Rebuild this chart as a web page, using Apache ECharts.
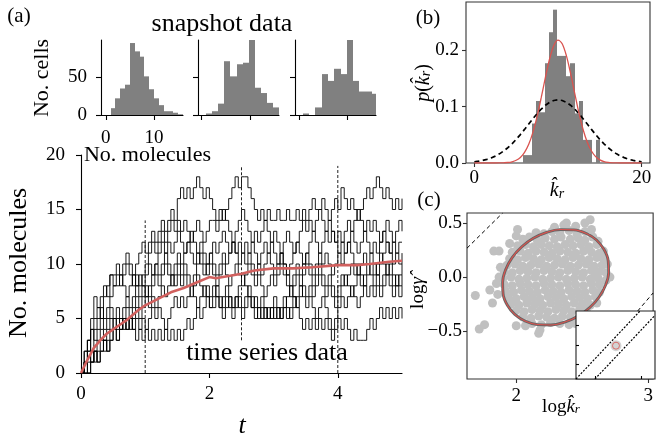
<!DOCTYPE html>
<html><head><meta charset="utf-8">
<script src="https://cdn.jsdelivr.net/npm/echarts@6/dist/echarts.min.js"></script>
<style>html,body{margin:0;padding:0;background:#fff}#c{width:656px;height:445px}</style>
</head><body><div id="c"></div>
<script>
const SERIF = "'Liberation Serif','Times New Roman',serif";

// ---- (a) snapshot histograms ----
const hist1Edges = [1,2,3,4,5,6,7,8,9,10,11,12,13,14,15,16];
const hist1Counts = [9,22,35,40,95,84,77,51,34,22,13,5,5,3,1];
const hist2Edges = [1,2.25,3.5,4.75,6,7.25,8.5,9.75,11,12.25,13.5,14.75,16];
const hist2Counts = [2,5,15,71,51,67,69,99,36,29,16,10];
const hist3Edges = [0.85,2.15,3.45,4.75,6.05,7.35,8.65,9.95,11.25,12.55,13.85,15.15,16.45];
const hist3Counts = [2,0,10,54,45,61,54,99,45,31,31,28];
const histXTicks = [0,10];
const histYTicks = [0,50];

// ---- (a) time series (sampled every tStep) ----
const tStep = 0.05;
const traj1 = [0,2,3,5,7,6,7,8,7,9,9, 10,9,10,11,10,9,10,11,12,11, 12,13,12,13,14,13,14,15,14,16, 17,16,17,16,17,18,17,16,17,16, 15,14,15,14,15,16,17,18,17,18, 18,17,16,15,14,15,14,15,14,14, 15,14,14,15,14,14,15,14,15,14, 15,16,15,15,16,15,14,15,16,15, 17,16,15,16,15,14,15,16,17,16, 17,18,17,16,17,16,15,16,15,16];
const traj2 = [0,1,3,4,5,6,5,7,8,9,8, 9,8,9,10,9,8,9,8,9,10, 11,12,11,12,13,12,13,14,13,14, 13,14,13,12,13,14,13,12,13,14, 14,13,14,15,14,13,12,13,14,15, 14,13,12,13,12,13,14,13,12,13, 12,11,12,13,12,11,12,13,14,13, 14,13,14,15,14,13,12,13,12,11, 12,13,14,13,14,15,14,13,14,13, 14,13,12,13,14,13,12,13,14,13];
const traj3 = [0,2,3,2,4,5,6,5,6,7,8, 8,9,8,7,8,9,8,9,8,9, 10,9,10,11,12,11,12,11,12,13, 12,11,12,13,12,11,12,11,10,11, 12,11,12,13,12,11,12,11,12,11, 10,11,12,11,10,11,12,11,12,11, 10,11,10,9,10,11,12,11,10,11, 12,13,12,11,12,13,14,13,12,13, 12,11,12,13,12,11,12,13,12,11, 12,11,12,13,12,11,12,11,12,12];
const traj4 = [0,1,2,4,3,4,5,4,5,6,5, 6,5,6,7,6,7,8,7,8,7, 8,9,10,9,10,11,10,9,10,11, 10,11,12,11,10,11,10,9,10,11, 10,9,10,11,10,11,12,11,10,11, 12,11,10,9,10,9,10,11,10,9, 10,11,10,9,8,9,10,9,10,11, 10,9,10,11,10,11,10,9,10,11, 10,11,12,11,10,9,10,11,10,11, 10,9,10,11,12,11,10,11,10,11];
const traj5 = [0,1,2,1,2,3,4,3,4,5,4, 5,4,5,6,5,6,7,6,7,8, 7,8,9,8,9,10,9,8,9,10, 9,10,9,8,9,10,11,10,9,10, 9,8,9,10,9,8,9,10,9,8, 9,10,9,8,9,8,7,8,9,8, 9,10,9,8,7,8,9,8,9,10, 9,8,9,10,9,8,9,8,7,8, 9,8,9,10,9,10,9,8,9,10, 9,10,11,10,9,10,9,8,9,10];
const traj6 = [0,0,1,2,1,2,3,2,3,4,5, 4,5,4,5,4,5,6,5,6,7, 6,7,6,7,8,7,8,9,8,9, 8,9,8,7,8,9,8,7,8,7, 8,7,6,7,8,7,6,7,8,9, 8,7,6,5,6,7,6,5,6,7, 6,5,6,7,8,7,6,7,8,7, 8,7,8,9,8,7,8,7,6,7, 8,9,8,7,8,9,8,9,10,9, 8,9,8,9,10,9,8,9,8,9];
const traj7 = [0,1,0,1,2,1,2,3,2,3,4, 3,4,5,4,5,4,5,4,5,4, 5,6,5,6,5,4,5,6,7,6, 7,6,7,8,7,6,7,8,7,6, 7,8,7,6,7,6,5,6,7,6, 7,8,7,6,5,6,5,6,5,6, 5,6,7,6,5,6,7,8,7,6, 7,6,5,6,7,6,5,4,5,6, 7,6,7,8,7,6,7,8,7,8, 7,8,7,8,9,8,7,8,7,8];
const traj8 = [0,0,0,1,2,1,2,3,2,3,4, 3,4,5,4,5,4,3,4,3,4, 3,4,3,4,3,4,3,4,3,4, 3,4,5,4,5,6,5,6,7,6, 6,7,6,5,6,7,6,7,6,5, 6,7,6,7,6,5,6,5,6,5, 6,5,6,5,6,7,6,5,4,5, 4,5,4,5,4,5,4,3,4,5, 4,5,4,3,4,3,3,3,4,5, 4,5,6,5,6,5,6,5,6,5];
const trajectories = [traj1,traj2,traj3,traj4,traj5,traj6,traj7,traj8];
const meanT = [0,0.1,0.2,0.3,0.4,0.5,0.6,0.7,0.8,0.9,1.0,1.2,1.4,1.6,1.8,2.0,2.1,2.3,2.5,2.7,3.0,3.3,3.6,4.0,4.3,4.5,4.8,5.0];
const meanV = [0,1.2,2.3,3.0,3.6,4.0,4.4,4.8,5.3,5.8,6.2,6.8,7.4,7.8,8.3,8.8,8.7,8.9,9.1,9.4,9.6,9.6,9.7,9.9,9.9,10.0,10.2,10.3];
const snapT = [1, 2.5, 4];
const snapLow = [0, 3, 0];
const snapHigh = [14, 19, 19];
const mainXTicks = [0,2,4];
const mainYTicks = [0,5,10,15,20];

// ---- (b) ----
const bEdges = [5.84,6.35,6.87,7.38,7.89,8.41,8.92,9.43,9.94,10.46,10.97,11.48,12.0,12.51,13.02,13.54,14.05,14.56,15.07];
const bDensity = [0.014,0.014,0.07,0.11,0.09,0.177,0.232,0.272,0.19,0.19,0.154,0.177,0.088,0.11,0.041,0.041,0,0.041];
const curveStep = 0.5;
const bRed = [0,0,0,0,0,0,0.0001,0.0004,0.0009,0.0022,0.0048,0.0099,0.0189,0.0332,0.0544,0.0826,0.1164,0.1523,0.1849,0.2084,0.2180,0.2115,0.1905,0.1593,0.1236,0.0890,0.0595,0.0369,0.0212,0.0113,0.0056,0.0026,0.0011,0.0004,0.0001,0,0,0,0,0,0];
const bBlack = [0.0022,0.0032,0.0046,0.0065,0.0090,0.0122,0.0162,0.0212,0.0271,0.0340,0.0418,0.0504,0.0596,0.0691,0.0785,0.0875,0.0957,0.1025,0.1077,0.1109,0.1120,0.1109,0.1077,0.1025,0.0957,0.0875,0.0785,0.0691,0.0596,0.0504,0.0418,0.0340,0.0271,0.0212,0.0162,0.0122,0.0090,0.0065,0.0046,0.0032,0.0022];
const bXTicks = [0,20];
const bYTicks = [0,0.1,0.2];

// ---- (c) ----
const cloud = [
[2.29,0.46],[2.36,0.48],[2.45,0.47],[2.52,0.5],[2.56,0.53],
[2.15,0.41],[2.21,0.40],[2.27,0.42],[2.33,0.41],[2.40,0.43],[2.46,0.40],[2.52,0.42],[2.57,0.44],
[2.05,0.35],[2.1,0.37],[2.16,0.34],[2.22,0.36],[2.29,0.35],[2.34,0.37],[2.41,0.35],[2.47,0.36],[2.52,0.34],[2.58,0.37],
[2.01,0.29],[2.07,0.3],[2.13,0.28],[2.19,0.3],[2.25,0.29],[2.31,0.28],[2.37,0.3],[2.43,0.29],[2.49,0.3],[2.55,0.28],[2.61,0.3],
[1.97,0.23],[2.03,0.24],[2.09,0.22],[2.15,0.24],[2.21,0.23],[2.27,0.22],[2.33,0.24],[2.39,0.23],[2.45,0.22],[2.51,0.24],[2.57,0.23],[2.63,0.22],
[1.95,0.17],[2.01,0.16],[2.07,0.18],[2.13,0.17],[2.19,0.16],[2.25,0.18],[2.31,0.17],[2.37,0.16],[2.43,0.18],[2.49,0.17],[2.55,0.16],[2.61,0.18],[2.66,0.17],
[1.93,0.11],[1.99,0.12],[2.05,0.1],[2.11,0.11],[2.17,0.12],[2.23,0.1],[2.29,0.11],[2.35,0.12],[2.41,0.1],[2.47,0.11],[2.53,0.12],[2.59,0.1],[2.65,0.11],
[1.91,0.05],[1.97,0.04],[2.03,0.06],[2.09,0.05],[2.15,0.04],[2.21,0.06],[2.27,0.05],[2.33,0.04],[2.39,0.06],[2.45,0.05],[2.51,0.04],[2.57,0.06],[2.63,0.05],[2.68,0.04],
[1.9,-0.01],[1.96,0.0],[2.02,-0.02],[2.08,-0.01],[2.14,0.0],[2.2,-0.02],[2.26,-0.01],[2.32,0.0],[2.38,-0.02],[2.44,-0.01],[2.5,0.0],[2.56,-0.02],[2.62,-0.01],[2.68,-0.03],
[1.91,-0.07],[1.97,-0.08],[2.03,-0.06],[2.09,-0.07],[2.15,-0.08],[2.21,-0.06],[2.27,-0.07],[2.33,-0.08],[2.39,-0.06],[2.45,-0.07],[2.51,-0.08],[2.57,-0.06],[2.63,-0.07],
[1.92,-0.13],[1.98,-0.14],[2.04,-0.12],[2.1,-0.13],[2.16,-0.14],[2.22,-0.12],[2.28,-0.13],[2.34,-0.14],[2.4,-0.12],[2.46,-0.13],[2.52,-0.14],[2.58,-0.12],[2.63,-0.14],
[1.94,-0.19],[2.0,-0.2],[2.06,-0.18],[2.12,-0.19],[2.18,-0.2],[2.24,-0.18],[2.3,-0.19],[2.36,-0.2],[2.42,-0.18],[2.48,-0.19],[2.54,-0.2],[2.6,-0.18],
[1.96,-0.25],[2.02,-0.26],[2.08,-0.24],[2.14,-0.25],[2.2,-0.26],[2.26,-0.24],[2.32,-0.25],[2.38,-0.26],[2.44,-0.24],[2.5,-0.25],[2.56,-0.26],
[2.0,-0.31],[2.06,-0.32],[2.12,-0.3],[2.18,-0.31],[2.24,-0.32],[2.3,-0.3],[2.36,-0.31],[2.42,-0.32],[2.48,-0.3],[2.53,-0.31],
[2.05,-0.37],[2.11,-0.38],[2.17,-0.36],[2.23,-0.37],[2.29,-0.38],[2.35,-0.36],[2.41,-0.37],[2.47,-0.38],
[2.12,-0.43],[2.19,-0.44],[2.26,-0.42],[2.33,-0.43],[2.4,-0.44],[2.18,-0.49],
[1.69,-0.17],[1.72,-0.48],[1.76,-0.44],[1.83,0.24],[1.87,0.24],[2.01,0.44],[1.95,0.31],[2.6,0.01],[2.71,0.0],
[2.17,-0.52],[2.0,-0.45],[2.07,-0.45],[1.8,-0.12],[1.82,-0.24],[1.87,0.0],[1.85,-0.06],[2.61,-0.24],[2.69,0.12],
[2.66,0.24],[2.45,-0.43],[1.88,0.09],[1.86,-0.16],[2.62,0.33],[2.38,0.5],[2.0,0.38]
];
const ellX = [2.664,2.608,2.531,2.438,2.335,2.230,2.129,2.040,1.969,1.920,1.897,1.901,1.933,1.989,2.066,2.160,2.262,2.367,2.468,2.557,2.628,2.677,2.700,2.696,2.664];
const ellY = [0.257,0.342,0.402,0.436,0.439,0.413,0.358,0.278,0.180,0.069,-0.047,-0.159,-0.261,-0.345,-0.406,-0.439,-0.443,-0.416,-0.362,-0.282,-0.184,-0.073,0.043,0.155,0.257];
const diag1 = [[1.627,0.267],[1.897,0.592]];
const diag2 = [[2.85,-0.413],[3.037,-0.147]];
const cXTicks = [2,3];
const cYTicks = [-0.5,0,0.5];
// inset (unit coordinates)
const insetLineA = [[0,0],[0.81,1]];
const insetLineB = [[0.24,0],[1,0.936]];
const insetBlob = [[0.506,0.49]];
const insetXTicks = [0.24,0.83];
const insetYTicks = [0.22,0.5,0.79];

// ---------- build ----------
const chart = echarts.init(document.getElementById('c'), null, {renderer:'canvas', width:656, height:445});

function mkAxis(gi, min, max, ticks, showLabels, margin, o) {
  o = o || {};
  const col = o.color || '#000';
  return {
    type:'value', gridIndex:gi, min:min, max:max, position:o.position, z:o.z || 0,
    splitLine:{show:false},
    axisLine:{show:o.line !== false, onZero:false, lineStyle:{color:col, width:1.1}},
    axisTick:{show:true, inside:!!o.inside, length:o.tickLen || 5, customValues:ticks, lineStyle:{color:col, width:1.1}},
    axisLabel:{show:showLabels, customValues:ticks, margin:margin, fontFamily:SERIF, fontSize:o.fontSize || 19, color:'#000', formatter:o.fmt}
  };
}
const fmt1 = v => (v < 0 ? '\u2212' : '') + Math.abs(v).toFixed(1);

function histSeries(gi, edges, counts, color) {
  const data = counts.map((c, i) => [edges[i], edges[i+1], c]);
  return {
    type:'custom', xAxisIndex:gi, yAxisIndex:gi, data:data, encode:{x:[0,1], y:2}, z:2, silent:true,
    renderItem: function(params, api) {
      const a = api.coord([api.value(0), api.value(2)]);
      const b = api.coord([api.value(1), 0]);
      const x0 = Math.round(a[0]), x1 = Math.round(b[0]);
      const shape = echarts.graphic.clipRectByRect({x:x0, y:a[1], width:x1 - x0, height:b[1]-a[1]}, params.coordSys);
      if (!shape) return null;
      return {type:'rect', shape:shape, style:{fill:color}};
    }
  };
}

const series = [];
series.push(histSeries(0, hist1Edges, hist1Counts, '#808080'));
series.push(histSeries(1, hist2Edges, hist2Counts, '#808080'));
series.push(histSeries(2, hist3Edges, hist3Counts, '#808080'));
trajectories.forEach(tr => series.push({
  type:'line', xAxisIndex:3, yAxisIndex:3, step:'end', symbol:'none', silent:true, z:2,
  data: tr.map((v, i) => [+(i * tStep).toFixed(2), v]),
  lineStyle:{color:'#000', width:0.9}
}));
snapT.forEach((t, i) => series.push({
  type:'line', xAxisIndex:3, yAxisIndex:3, symbol:'none', silent:true, z:3,
  data:[[t, snapLow[i]], [t, snapHigh[i]]],
  lineStyle:{color:'#222', width:1, type:[3,2]}
}));
series.push({
  type:'line', xAxisIndex:3, yAxisIndex:3, symbol:'none', silent:true, z:4,
  data: meanT.map((t, i) => [t, meanV[i]]),
  lineStyle:{color:'#d1605e', width:2.6}
});
// (b)
series.push(histSeries(4, bEdges, bDensity, '#808080'));
series.push({
  type:'line', xAxisIndex:4, yAxisIndex:4, symbol:'none', silent:true, z:4,
  data: bBlack.map((v, i) => [i * curveStep, v]),
  lineStyle:{color:'#000', width:1.7, type:[5,3.5]}
});
series.push({
  type:'line', xAxisIndex:4, yAxisIndex:4, symbol:'none', silent:true, z:5, smooth:0.3,
  data: bRed.map((v, i) => [i * curveStep, v]),
  lineStyle:{color:'#d9534f', width:1.3}
});
// (c)
series.push({
  type:'scatter', xAxisIndex:5, yAxisIndex:5, data:cloud, symbolSize:9, silent:true, z:2,
  itemStyle:{color:'#c0c0c0', opacity:1}
});
series.push({
  type:'line', xAxisIndex:5, yAxisIndex:5, symbol:'none', silent:true, z:3, smooth:0.4,
  data: ellX.map((x, i) => [x, ellY[i]]), lineStyle:{color:'#666', width:2.8}
});
series.push({
  type:'line', xAxisIndex:5, yAxisIndex:5, symbol:'none', silent:true, z:4, smooth:0.4,
  data: ellX.map((x, i) => [x, ellY[i]]), lineStyle:{color:'#d9534f', width:1.1}
});
[diag1, diag2].forEach(d => series.push({
  type:'line', xAxisIndex:5, yAxisIndex:5, symbol:'none', silent:true, z:3, data:d,
  lineStyle:{color:'#000', width:1, type:[4,3]}
}));
// inset
series.push({
  type:'custom', xAxisIndex:6, yAxisIndex:6, data:[[0,0]], z:6, silent:true,
  renderItem: function(params) {
    const cs = params.coordSys;
    return {type:'rect', shape:{x:cs.x, y:cs.y, width:cs.width, height:cs.height}, style:{fill:'#fff', stroke:'#222', lineWidth:1.1}};
  }
});
[insetLineA, insetLineB].forEach(d => series.push({
  type:'line', xAxisIndex:6, yAxisIndex:6, symbol:'none', silent:true, z:7, data:d,
  lineStyle:{color:'#000', width:1.2, type:[2,1.5]}
}));
series.push({
  type:'scatter', xAxisIndex:6, yAxisIndex:6, data:insetBlob, symbolSize:11, silent:true, z:7,
  itemStyle:{color:'#c8c8c8'}
});
series.push({
  type:'scatter', xAxisIndex:6, yAxisIndex:6, data:insetBlob, symbolSize:7, silent:true, z:8,
  itemStyle:{color:'rgba(0,0,0,0)', borderColor:'#d9534f', borderWidth:1}
});

const xAxes = [
  mkAxis(0, -1, 16, histXTicks, true, 14),
  mkAxis(1, -0.7, 16, histXTicks, false, 14),
  mkAxis(2, -0.8, 16, histXTicks, false, 14),
  mkAxis(3, 0, 5, mainXTicks, true, 12),
  mkAxis(4, -1, 21, bXTicks, true, 6, {line:false, tickLen:4, color:'#333'}),
  mkAxis(5, 1.627, 3.037, cXTicks, true, 8, {line:false, tickLen:4, color:'#333'}),
  mkAxis(6, 0, 1, insetXTicks, false, 8, {line:false, inside:true, tickLen:3, z:20})
];
const yAxes = [
  mkAxis(0, 0, 99, histYTicks, true, 14),
  mkAxis(1, 0, 99, histYTicks, false, 14),
  mkAxis(2, 0, 99, histYTicks, false, 14),
  mkAxis(3, 0, 20, mainYTicks, true, 16),
  mkAxis(4, 0, 0.2856, bYTicks, true, 7, {line:false, tickLen:4, color:'#333', fmt:fmt1}),
  mkAxis(5, -0.942, 0.592, cYTicks, true, 5, {line:false, tickLen:4, color:'#333', fmt:fmt1}),
  mkAxis(6, 0, 1, insetYTicks, false, 8, {line:false, inside:true, tickLen:3, z:20})
];
xAxes.forEach(a => a.position = 'bottom');
yAxes.forEach(a => a.position = 'left');

function txt(x, y, text, size, o) {
  o = o || {};
  return {type:'text', x:x, y:y, rotation:o.rot || 0, z:100, silent:true,
    style:{text:text, fontFamily:SERIF, fontSize:size, fontStyle:o.italic ? 'italic' : 'normal', fill:'#000', align:'center', verticalAlign:'middle', rich:o.rich}};
}
function richSet(base, sub) {
  return {
    u:{fontFamily:SERIF, fontSize:base, lineHeight:base+4, verticalAlign:'bottom', fill:'#000'},
    i:{fontFamily:SERIF, fontSize:base, fontStyle:'italic', lineHeight:base+4, verticalAlign:'bottom', fill:'#000'},
    s:{fontFamily:SERIF, fontSize:sub, fontStyle:'italic', lineHeight:sub, verticalAlign:'bottom', fill:'#000'}
  };
}

const graphics = [
  txt(19, 16, '(a)', 21),
  txt(428, 18, '(b)', 21),
  txt(429, 200, '(c)', 21),
  txt(222, 24, 'snapshot data', 26),
  txt(42.5, 78, 'No. cells', 22, {rot:Math.PI/2}),
  txt(147.5, 155, 'No. molecules', 22),
  txt(267, 353.5, 'time series data', 26),
  txt(19.5, 263, 'No. molecules', 26, {rot:Math.PI/2}),
  txt(242, 426, 't', 26, {italic:true}),
  txt(421.5, 83, '{u|}{i|p}{u|(}{i|k\u0302}{s|r}{u|)}', 20, {rot:Math.PI/2, rich:richSet(20, 14)}),
  txt(557, 189, '{i|k\u0302}{s|r}', 20, {rich:richSet(20, 14)}),
  txt(561, 405, '{u|log}{i|k\u0302}{s|r}', 19, {rich:richSet(19, 13)}),
  txt(416, 293, '{u|log}{i|\u03b3\u0302}', 19, {rot:Math.PI/2, rich:richSet(19, 13)})
];

chart.setOption({
  animation:false,
  backgroundColor:'#fff',
  grid:[
    {left:101, top:40, width:82, height:75},
    {left:198, top:40, width:81, height:75},
    {left:295, top:40, width:81, height:75},
    {left:81, top:155, width:321, height:218},
    {left:466, top:2, width:184, height:161, show:true, borderColor:'#333', borderWidth:1.1},
    {left:467, top:213, width:188, height:166, show:true, borderColor:'#333', borderWidth:1.1},
    {left:576, top:311, width:79, height:68}
  ],
  xAxis:xAxes,
  yAxis:yAxes,
  series:series,
  graphic:graphics
});
</script>
</body></html>
